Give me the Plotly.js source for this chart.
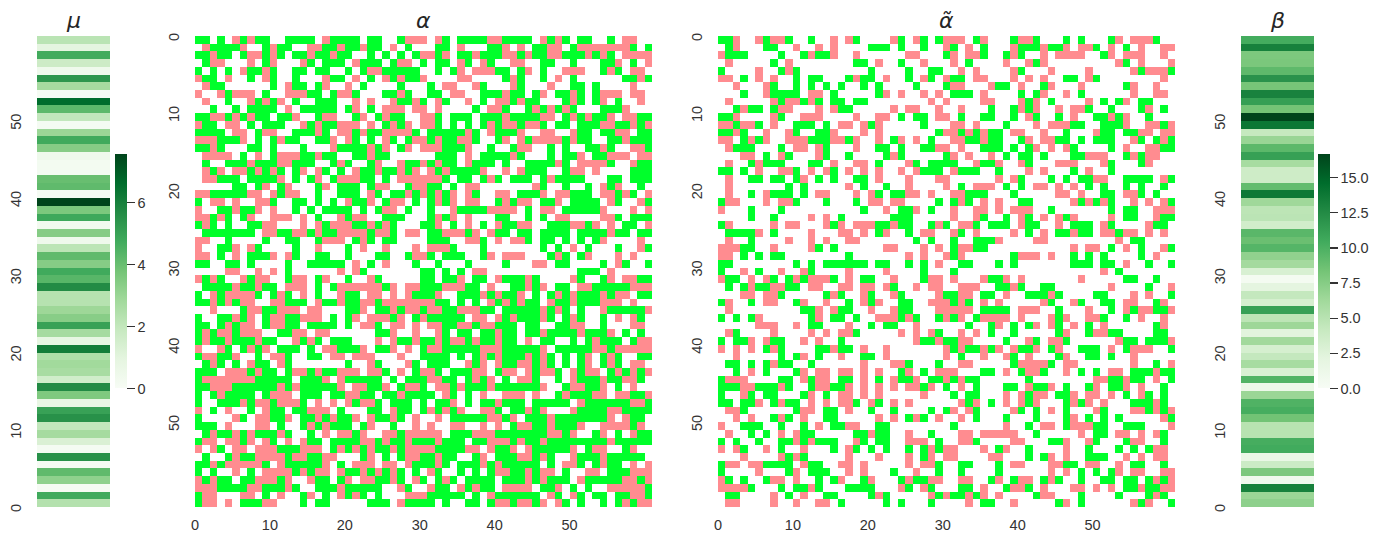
<!DOCTYPE html>
<html><head><meta charset="utf-8">
<script src="https://cdn.plot.ly/plotly-3.0.1.min.js"></script>
<style>html,body{margin:0;padding:0;background:#fff}#c{width:1383px;height:544px}</style></head>
<body><div id="c"></div>
<script>
const muValues=[2.35,4.75,.1,3.2,4.15,.1,5.5,.15,1.3,2.7,2.0,5.5,5.0,.75,3.55,5.7,1.6,2.65,2.8,2.5,6.1,.85,2.7,5.0,3.35,2.9,2.3,2.3,5.65,4.3,4.75,3.4,4.15,2.15,.4,3.4,.25,4.8,3.6,7.55,.1,4.15,4.0,.2,.2,.45,3.4,4.75,2.95,.15,2.0,4.2,6.6,.1,2.7,5.35,.4,1.7,4.7,.95,2.2];
const betaValues=[7.1,6.5,13.2,.8,7.9,3.8,1.5,10.4,10.2,5.0,5.0,8.4,10.2,9.8,6.5,1.2,9.7,2.9,5.9,4.3,3.2,6.2,2.3,6.4,4.7,11.1,3.2,4.3,2.1,.4,3.0,6.1,7.0,9.6,8.7,9.4,3.5,4.8,4.7,6.3,13.8,9.0,3.7,3.7,5.9,11.1,9.3,6.6,4.2,13.9,16.65,8.3,11.2,13.1,8.2,12.0,9.2,8.0,7.9,13.2,10.3];
// . white, r pink, g green: left half (columns 0-29 + overlap), right half (columns 30-60)
const alphaLeft=[
"gg.g.rgrgg..gggg.rgggg.gg..grrr",".rggggr..grgg..rrggrggrgg.r.g..","ggrgg.grrgrg.ggrggrgg..g.g.g.gr",".grr...r.gr...rg.ggg.rggg.grr.g","g.g.g.rggrg..gg.gg..g.grrggggg.","rgg.r..g.rg..g...rgg.r.g.rgrggr",".rgg......g.rgg.gr..r.g....g...","r..rgrrr.g..rrrgg.grrg...ggrg..",".r..g..rgrgr.g..ggg..r.r..rggrg","..g..g.gggg.r.ggggg.gr.g.rrr.rr",
"ggrrgrgrgg.ggr..grr..gr.grgg..r","rgg.rr.g.ggg..rgrggrrr.r.grgr.r","gggg.rr.grr..gggrg.rrgrggrrrrg.","rrrgggr.g.grgg..ggr.rg.g.rg.grr","ggrg...gg.g...g...rggggrgr.gr.r",".rrrr.g.r.grrrggrgg..ggrgg.....",".g..gggrgggrrggg..grg..gr..rggr",".rgr.rrgrgrg.gr.rg.g.rggrggrgr.",".rrggg.ggggr.g.gr.grrrgg.g.rrrr",".....gg.gr.gr...gr.ggg.grr..grr",
"rrgggggrr.rgrr..g..ggg.rg.ggrg.","g.rr.r..rrg..gg.g.g.rggr.grr.g.","r..ggrggr.r..g.g.gggg.g.grr.g..","rrgrg.gr..rrr.r.g..rgrr..ggg...","grg.g..ggrr...r.rgrrrggrgrg...g",".ggggggg.rrggrrgrggrrrrgrrg.rr.","rr..g....g..gg..grrr.grg.gg....","r..ggr.rg....g..r...g.r..r...r.","rr.g.r.gggr.rg..gg..g...gg..grr","gg..gg.g....g..ggggg.r.g.r...g.",
"....rr..r.r.g......r.rg.......g","rgrg..rgrr..grr.gr..g..rg.....g",".ggggrggrgg.rrr.g.grrrrrrgr.rrg","g.rgrrrrg.grg.r.g..rgg.rr.r.rgg","ggrgrgrr..rrggg.rggrggrrgrrrrrr","..r...grrggrrr.rr...ggr.ggrgrrg","g..ggrgr.grrggrrr.g.gr.rrrgr.gr","gg.grgrr.grrgg.gggg.g.rrg.rr.r.","grgrrgrrr..ggrr.rr......ggr..r.","grggrgggrgg..rgrg.ggg...r.rggrg",
"r..rg.grgr.ggg.g.rrgggr.ggr.r.g","grrggr..g.rrg..gg.rr.rrr...r..g",".grg.g.rgg.rg.......g..rg...rg.","ggg.rrrgrgg.grrgrggrrr.rrg.r.gr","grrrrrrrggggg.gggr.rggggg.g.ggg","ggrrrggggggrgrgggggr.rrggr.grrg","g.grgggg.grrr.ggg.ggrrgg.ggrggg","g..gggrgrrgrrrg.r.r.rgrrg.ggg.g","r.g.r..g.rgg.ggrrr.g...gg.rgg.g","g....rg.rrggr.ggrgrggr.rggrg.r.",
"ggg.r...rr.g..grgrggg.gr..g..r.",".grggrgrgggrg..g.r.rrgr..rrgrrr","grr.rrgr.rg.r.rgg.ggggrrgrggrgg","r.rg.rr.rrrgggrrr.grgrgrggrgrrr",".g..grggrrrrgrrggrr...gr.g.grr.","ggrgrrrrrg.rgggggr.g.rrr.rr.rgg","g.g..r.g.rrrrgrgrr.rggrgrgrg.g.","rgrgg.ggrrrgr..rgg.gr.rrggrg.rg","rrrggggrrgggrg..gggrggggg..rg..","grr...rr.g.r..gr.g.rgrg.g...rrr","grr.r.gggrr...g.gg.....ggg.rggg"];
const alphaRight=[
"r.rg.ggggrrgggg.rgrg.gg..g.rr..","..gg.r...ggr.r.ggrr.grrrrrrrg.g","rrgr.ggrgggrrgrggrrgggrgrg.rrrr","g.gg.rg.rg..rr..gg..g...ggr.g.r","..g.gr.rrrgg.gr.g..rrr..grg.rr.","r....rr....grg..g.r.g......ggrg",".g.rr..rg...rg...r..gg.g....r..",".gg.rr..gggrgg.gr.ggrg.grrr.rr.","g.rg..r.g.rrgrgg...grg.gr.g..r.","r.r....g.rrg..grgrgrg...gggr...",
"rrg.ggg.gggrggggrr.grgrggr.rrgg","rrg.g.g.grgrrgrrg.gg.gggrrggrgr",".gggggrg.rgggr..rr..rgg.ggrr.gg","rgrggrrg..gr.rgrrrrgrgg..ggrggg","rrrgggr..g..grr..g.g..ggrg..rrg","..ggg.r.ggggrg...g.ggr.ggrrr.rr","rgrgg.rggg.g..ggggrg.rrrrg..rgg",".rgrggggr..r.rggg..grr.r....ggg","rrrg.gg.grg.ggg.grgggg...gg.ggg","rgg.g.rr.......rg..g..g.rgr..g.",
"rgrgr.rg..rr.gggr.rrggg.rrgrg.r",".grgr.rr..grgrr.ggr.gggg.rg..rg",".g..rggggrrrr.g.rr.gggggr...r.r",".grgr.r...gg..g.g.rr....rrg.ggg","ggr.g.r.g.rggrr..gggrrgr.r.gg.r",".ggrrrgr.rgg.gg.gggg.ggggrgg.gg",".ggg..rrg.r.rrg.gg.g.g.gr....r.",".rrrg...g.......g.g.r.g...g..rg","rg.ggg..gr.rrr...grg.gr...r.r..","..g...g....g...rr.gg....g.rg..g",
"gg.g.g.rr............ggg.r.....","gg.ggr.gg.rgggrg....rg..gr.rrgg","gggrrrgg.r..ggrgr.gg.rrgggggrrr","ggr..gggrgrggr.g.grgrgggrgrr.gg","rrgg.g.g.rgrgrgg.rggrgggrrr.r..","grrggrrrgg.gggggrgrg.g..rgggggr","rggggg.rr.rgrgggrg.grg..g.r.rg.",".rrggrrgrrggg.gg..ggrr..g...rr.","..rg.gg.ggrgg.ggrggggrgggr.g.g.","ggrgrrgrggrgg.r.gg..g.grggg.grr",
"grrgggggrrrgggggr.gggggrrgrrrrr","gggg.g.grgrgggrgrg.g.gr.grg..gg",".ggg..rgr.rggrrgrg.g.gr.grg.rr.","rrg.gggrr.grr.rgrrg.rgrr.grgrgr","grrgg.grgr.g.rrg..g.rgggrggrrg.","g.rrgrgggrggggggr..grrggr.g.r..","gg.rg.g.r..rrr.r..grgggrr.rrggr","g.ggr.g.ggrggg.ggggg.rggggggrrg","grgrgr..rrg.ggrgr...rggggrrgggg","..r.gggggrrgr.gggrgggggggr.rgg.",
".r..rr..r.r.grrggrgggr..rrrrgr.","rrr.gggrrrgggggggrrgr..gr.g.rgg","ggrggg.ggrrrgrggrggggggggrggggg","rrggggrr.rggr.rgggggr.grr..gr..","ggrgg..gr.gggrrgrg..rgggrggggg.","ggrg.gggrgrggggg.g.rrg.grgg.r.r",".rg..g.g.grrggrgrr.g..rr.gggrrr","g.grg.gggg.gggrgrggg.rgggggrrgr",".rgg.rgrgg.rrrr.ggr.g.g..rrrrrg","rggggg.g.rgggggg.rg.rg.gg.ggrrg","gg.g..gg.grrgrrgr.rg.g..g.grgrr"];
const tildeLeft=[
"ggr..rgrrg..g..r.rg....rg.rg.gr",".gr...gg..r..r.r....ggg.g..g..r","rggg....g..grggr..r......rr...g",".r.....g.r........gg.r..g..r...","g....r..grg.........g....g..gg.","rr.g.r.r..g.gg...grgg.r..g.rg.r","..r...rg..g.g.g.g..g.g....g...g","...g..rgggg.rr.g.....gr.r..r.r.",".r.....rgrrgrg.gg.gg........r.r","..grgg.grr...r.rgg.....r.rr..r.",
"ggr....rg..rrr....r..rr.g.gg.rr","rrgrrg.r..ggg.g.rr.rgr.....g...","ggrg..r..rg..ggr...r.r.......gr","rr.grgr..rrrgggrrgr..r.gr.r.g..",".rggg...g.rr.rg...r..gg.g..ggrr","...rr.g.rg...rg..g....grg.....g",".r..grggg...gg.r..rr.g...rg.ggg","gg.g.r..rrg.r.rg.r.r.r..r.rggg.",".r..gg.gg.gr.g.g..gg.r...r...rr",".r.......g.g.....r.g..g..r.....",
".r..g.rggg.g.rr...r.rg.ggrr.r..","grr...r.rrg...g...g.rr.rr....g.","r...g...g..........g..r.ggr.g..","....g..g....r.r.g......ggg.....","gr.....r.rr...rgr.rrrggrgg..grg",".ggggr.g....r...rr.r.gr..g.rr..",".r..g....r..r.r..rr.......g.g..","rrrgg..r....rg.g......rr...r.r.","rr.g.g.gg........g.......r.r..r","gg........g.g.gggggg.gg..g.g.r.",
"g..r.g..r..rg....r....r....g...","rgg.r.rg.grgrrrg.r.gg..r...grr.",".g.grggrrgg.rr..rr.rr.rg..r.rr.","...rr.rrg.....grg..rg..rg....rg","gr..g.rr..gr..r..g.rgr..gg..rrr",".r.........ggr.rgg..r..rgg...rr","g.g.gr......gr.gg.g..rrrgrg..gr",".....rrr..r.gg...r..g.gg..r....",".rg....r....r.r.rrg.....r.r.rg.","g.ggr.rgg..r.r..g.........rggrg",
"r.r.r.grg....ggrgg.r..r.......r","..r.....g.gr.g..r..gg.r.......r",".gg.g.grgg..g......r...rrg...g.","..g.r.g...gr.rr.rr.r.r..gr.g.rr","grrr....gg.rgrr.gg.r.g.rggr.ggr","gggrrgggrg..grrggr.r.r.r.rrgr.g","g..rg.gg...gr.g.rr.r.r.....r...","gg.ggr.grgg.r.r.rrg.rg.r.r.....",".rrg......grr.gg.r..g..g....g.g","..r.r..grg.r..gg.....r.r.grg.r.",
"r..ggg..g..g.r.ggrr..gg........",".r..g.g.r.rgg.....ggrgg..r..g..","g.g..g..ggrgrggg..rg.gg..rrr.g.","r.rg..r.g..r...g.rg.g.g..g.grgr","...r....rgrg.....r...r...r.gr.r","grr.rrgggg.rgg..rr.r.....r.rrg.","g....r...gr.ggg..r.r...g..r..g.","rg.g..grr.r..g.gr..gr...grggrr.","rrrrg...g.ggrg...gggg...rg.rg..",".gg....r.g.r..gg....grg.....rgr",".rr....r..r..rr.g.....g.g...g.."];
const tildeRight=[
"rrr.gr...grrg...g.g...gr.rrrg..","rg.r.g...rgggrggr.rrg.r.g.r..rr","gr.rrg..grg..r.rrrr..gr.rrr..r.",".r.g....r..rgr.........rg.r...r","..r.r....rg...r....r.....rgrrrg","rgg.rr...r.r.r..gg.rg........r.","grr...rgg.r..gr...r.....gr..r..",".ggg.r....g.gr..r.g......r..rr.","r....rr...rgr.g....r.g.gr.gg...","..r...g..grgr..r.rrg..g...gr.g.",
"r.g..gg..g.rg..g.r..ggrgr..g...",".rr.r...g...r.rrrgg..gggr..rrgr","rrgrgrgg.rr..r..g...rgg.ggrr.rr",".rrggrgg..gr.rrgg.g.ggg..rg.grg","r.r..ggg.g.gr.r.rg....g.r..rrgg","gr.r..r.g.gg.g...ggrrr..grgrr..","gg..rggr..rg...rrr...rg...gr...",".rggg..g...r.r...g.r..g........","r......r.rg...g.g.ggrr..gggg.rg","r.g.rrr.g.g.rr.r.r.g.g..g.g..g.",
".rrggg...g.....rr.r..gg.rrg.g..",".grg.r.r..gg.....rgrgrg..r.r.rg",".r..rr.r.rrr..g.......g.gg..rrr",".r..rg..g.rg.r.rgr....r.gg..rgg","g.rrg.ggg.rgg..r.ggg.rg....rgg.",".rg.r....r.g.r.ggrgg.rrgrr.r.r.",".g..gggr....rr.........r.gg....",".grrgg...........r.rr.g.r.g..rg","rgr......grrr.r..g.g.g....g.r..","..gg...g.g.......ggg.gg.r..g..g",
".g...................r.g.......",".r...rggr.r.......r.....gg..g..","..rrr..ggrg..gg.......r....g..r","ggrr.gg.r..gggrg....gg...r.r..g","rgrg.r.r.....rg..rg..gg.rr..gr.","rrrr.gggg.rrr..g...r..g.rgrrggr","rgr.grrrr.r...rgr..rrg..g.r..r.","...g..gr.g.gr.rg.r.g.r......gr.","..r.r.g..g.....gr..grrgg....gg.","ggrr....g..rg.rrg......rgg.gggr",
"rgrggrgr.rggr.gr..ggg.r.grrr..g","r.g..r..rg.r...gr..gg.g..r.....","..rr.....grrrrg.rr.......r..g.r","rr...gg.r.grrg..r.g.g.rr.gggrgg","rgrgg......g........rrggrgg.r.g","g.r.g...gg.rggr.g..gr.ggr.r..g.",".g.gg...r.rgrr.ggr.rr.r.g.rg.g.","..rgr.g.r.rgr...grgr.r...gggrg.","gr.rg....rg.g.r.g...rg...rrgrgr","..r.g...g...g...gr.g.g.g.....rg",
".g......r..g.rr.grrrgg..ggg...r","..rr.rrrrr..g.....r.gg.rr.r.rg.","..rrg....rr...ggr..rg...grr..g.","rr...r.gr..g....r..g...g.g.grr.","rr....rr...g.gr.r..ggg..r.r.rr.","..gg...g.rr...rrgg.rr..r.gg..g.","..g....g......r.r.g.g.gr.rr..rr","..rr..gr.grr.grg..g..gg.gg.grgr","..gg.r..grrg.r...rr.r.r.ggrggrr","rggrgr.r....grr...g....g...grg.","...r.gg..r.....gr.g......rgr..g"];
const gridTicks=[0,10,20,30,40,50];
const betaTicks=[0,2.5,5,7.5,10,12.5,15];
const muTicks=[0,2,4,6];
const code={'.':0,'r':1,'g':2};
const toMatrix=(L,R)=>L.map((row,i)=>(row.slice(0,30)+R[i]).split('').map(c=>code[c]));
const idx=n=>Array.from({length:n},(_,i)=>i+0.5);
const W=1383,H=544;
const dx=(a,b)=>[a/W,b/W], dy=(t,b)=>[1-b/H,1-t/H];
const tickFont={family:'Liberation Sans, Arial, sans-serif',size:14.5,color:'#333333'};
const greens=[[0,'#f7fcf5'],[.125,'#e5f5e0'],[.25,'#c7e9c0'],[.375,'#a1d99b'],[.5,'#74c476'],[.625,'#41ab5d'],[.75,'#238b45'],[.875,'#006d2c'],[1,'#00441b']];
const discrete=[[0,'#ffffff'],[.3333,'#ffffff'],[.3333,'#ff8c90'],[.6667,'#ff8c90'],[.6667,'#00ff2b'],[1,'#00ff2b']];
function cbar(x,ticks,fmt){return {x:x/W,xanchor:'left',y:1-388.5/H,yanchor:'bottom',len:234,lenmode:'pixels',thickness:12,thicknessmode:'pixels',xpad:0,ypad:0,outlinewidth:0,tickmode:'array',tickvals:ticks,tickformat:fmt,tickprefix:'\u00a0',ticks:'outside',ticklen:8,tickwidth:1.3,tickcolor:'#333',tickfont:tickFont};}
const data=[
 {type:'heatmap',z:muValues.map(v=>[v]),x:[0.5],y:idx(61),xaxis:'x',yaxis:'y',colorscale:greens,zmin:0,zmax:7.55,colorbar:cbar(115,muTicks,'d')},
 {type:'heatmap',z:toMatrix(alphaLeft,alphaRight),x:idx(61),y:idx(61),xaxis:'x2',yaxis:'y2',colorscale:discrete,zmin:0,zmax:2,showscale:false},
 {type:'heatmap',z:toMatrix(tildeLeft,tildeRight),x:idx(61),y:idx(61),xaxis:'x3',yaxis:'y3',colorscale:discrete,zmin:0,zmax:2,showscale:false},
 {type:'heatmap',z:betaValues.map(v=>[v]),x:[0.5],y:idx(61),xaxis:'x4',yaxis:'y4',colorscale:greens,zmin:0,zmax:16.65,colorbar:cbar(1318,betaTicks,'.1f')}
];
const yax=(dom,rev,anchor)=>({domain:dy(36,507),range:rev?[61,0]:[0,61],tickmode:'array',tickvals:gridTicks,tickangle:-90,ticklabelstandoff:12,ticklabelshift:rev?-3:3,tickfont:tickFont,showgrid:false,zeroline:false,showline:false,ticks:'',ticklen:0,anchor:anchor,fixedrange:true});
const xax=(a,b,anchor,show)=>({domain:dx(a,b),range:show?[0,61]:[0,1],tickmode:'array',tickvals:show?gridTicks:[],ticklabelstandoff:7,tickfont:tickFont,showgrid:false,zeroline:false,showline:false,ticks:'',anchor:anchor,fixedrange:true,showticklabels:!!show});
const titleAt=(text,x)=>({text:text,xref:'paper',yref:'paper',x:x/W,y:1-21/H,xanchor:'center',yanchor:'middle',showarrow:false,font:{family:'DejaVu Sans',size:22,color:'#262626'}});
const layout={width:W,height:H,margin:{l:0,r:0,t:0,b:0},paper_bgcolor:'#fff',plot_bgcolor:'#fff',showlegend:false,
 xaxis:xax(37,110,'y',false),yaxis:yax(0,false,'x'),
 xaxis2:xax(195,652,'y2',true),yaxis2:yax(0,true,'x2'),
 xaxis3:xax(718,1175,'y3',true),yaxis3:yax(0,true,'x3'),
 xaxis4:xax(1241,1314,'y4',false),yaxis4:yax(0,false,'x4'),
 annotations:[titleAt('<i>μ</i>',73.5),titleAt('<i>α</i>',423.5),titleAt('<i>α̃</i>',946.5),titleAt('<i>β</i>',1277.5)]};
Plotly.newPlot('c',data,layout,{displayModeBar:false,staticPlot:true});
</script></body></html>
